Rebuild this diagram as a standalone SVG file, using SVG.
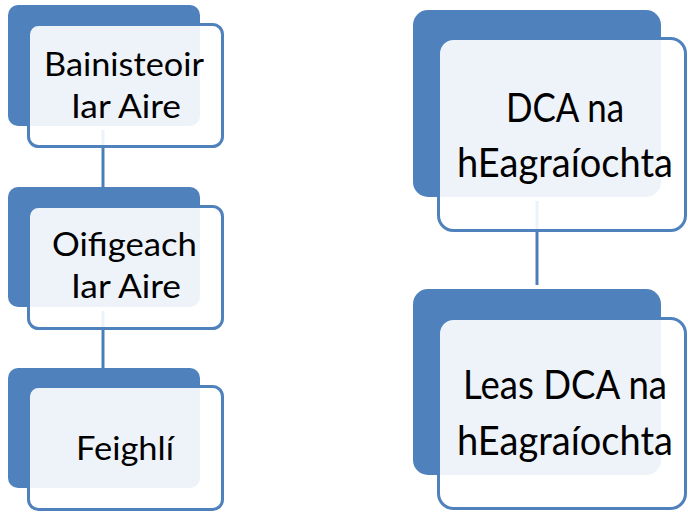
<svg xmlns="http://www.w3.org/2000/svg" width="688" height="514" viewBox="0 0 688 514">
<style>
.back{fill:#4F81BD;}
.front{fill:#FFFFFF;fill-opacity:0.9;stroke:#4F81BD;stroke-width:3;}
.conn{stroke:#4A7EBB;stroke-width:3;fill:none;}
.t{font-family:Lato,"Liberation Sans",sans-serif;font-size:33px;fill:#000;text-anchor:middle;}
.tr{font-family:Lato,"Liberation Sans",sans-serif;font-size:40px;fill:#000;text-anchor:middle;}
</style>
<rect width="688" height="514" fill="#FFFFFF"/>
<g id="backs">
<rect class="back" x="8" y="5" width="192" height="121" rx="10"/>
<rect class="back" x="8" y="187" width="192" height="120" rx="10"/>
<rect class="back" x="8" y="368" width="192" height="120" rx="10"/>
<rect class="back" x="413" y="10" width="248" height="187" rx="15"/>
<rect class="back" x="413" y="289" width="248" height="186" rx="15"/>
</g>
<g id="connectors">
<line class="conn" x1="103" y1="130" x2="103" y2="187"/>
<line class="conn" x1="103" y1="311" x2="103" y2="368"/>
<line class="conn" x1="537" y1="201" x2="537" y2="285"/>
</g>
<g id="node-bainisteoir">
<rect class="front" x="28.5" y="24.5" width="194" height="122" rx="10"/>
<text class="t" x="124" y="76" textLength="160" lengthAdjust="spacingAndGlyphs">Bainisteoir</text>
<text class="t" x="126" y="118" textLength="110" lengthAdjust="spacingAndGlyphs">Iar Aire</text>
</g>
<g id="node-oifigeach">
<rect class="front" x="28.5" y="206.5" width="194" height="122" rx="10"/>
<text class="t" x="124.5" y="256" textLength="145" lengthAdjust="spacingAndGlyphs">Oifigeach</text>
<text class="t" x="126" y="298" textLength="110" lengthAdjust="spacingAndGlyphs">Iar Aire</text>
</g>
<g id="node-feighli">
<rect class="front" x="28.5" y="386.5" width="194" height="123" rx="10"/>
<text class="t" x="125" y="460" textLength="98" lengthAdjust="spacingAndGlyphs">Feighlí</text>
</g>
<g id="node-dca">
<rect class="front" x="438.5" y="38.5" width="247" height="192" rx="15"/>
<text class="tr" x="565" y="122" textLength="118" lengthAdjust="spacingAndGlyphs">DCA na</text>
<text class="tr" x="565" y="177" textLength="216" lengthAdjust="spacingAndGlyphs">hEagraíochta</text>
</g>
<g id="node-leas-dca">
<rect class="front" x="438.5" y="318.5" width="247" height="190" rx="15"/>
<text class="tr" x="565" y="399" textLength="204" lengthAdjust="spacingAndGlyphs">Leas DCA na</text>
<text class="tr" x="565" y="455" textLength="216" lengthAdjust="spacingAndGlyphs">hEagraíochta</text>
</g>
</svg>
